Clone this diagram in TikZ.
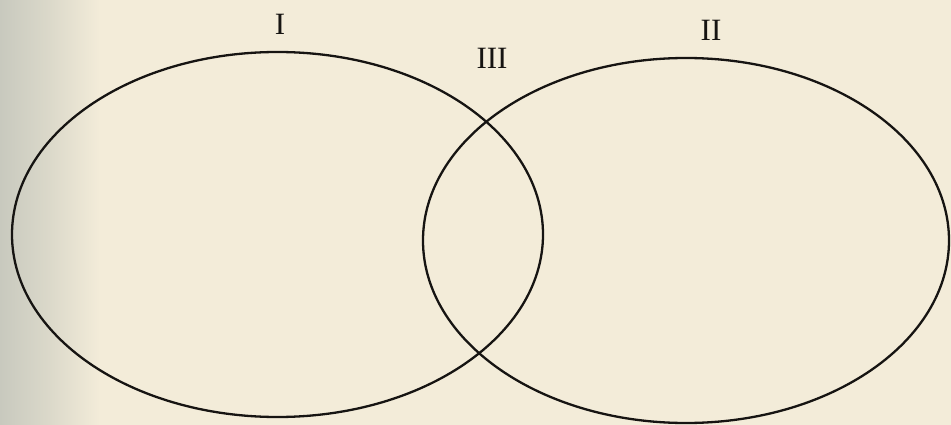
\documentclass[tikz,border=0pt]{standalone}
\usepackage{fontspec}
\setmainfont{Liberation Serif}
\usetikzlibrary{shapes.geometric}
\definecolor{paper}{RGB}{243,236,217}
\definecolor{papergrey}{RGB}{200,201,190}
\definecolor{ink}{RGB}{22,20,18}
\tikzset{
  setellipse/.style={ellipse, draw=ink, line width=2.3pt, inner sep=0pt, outer sep=0pt},
  roman/.style={font=\fontsize{31}{31}\selectfont, text=ink, inner sep=0pt}
}
\begin{document}
\begin{tikzpicture}[x=1pt,y=-1pt]
\useasboundingbox (0,0) rectangle (951,425);
\fill[paper] (0,0) rectangle (951,425);
\shade[left color=papergrey, right color=paper, middle color=papergrey!55!paper] (0,0) rectangle (100,425);
\node[setellipse, minimum width=531pt, minimum height=365pt] (A) at (277.5,234.5) {};
\node[setellipse, minimum width=526pt, minimum height=365pt] (B) at (686,240.5) {};
\node[roman] (lI) at (280,24) {I};
\node[roman] (lII) at (711,30) {II};
\node[roman] (lIII) at (492,58) {III};
\end{tikzpicture}
\end{document}
